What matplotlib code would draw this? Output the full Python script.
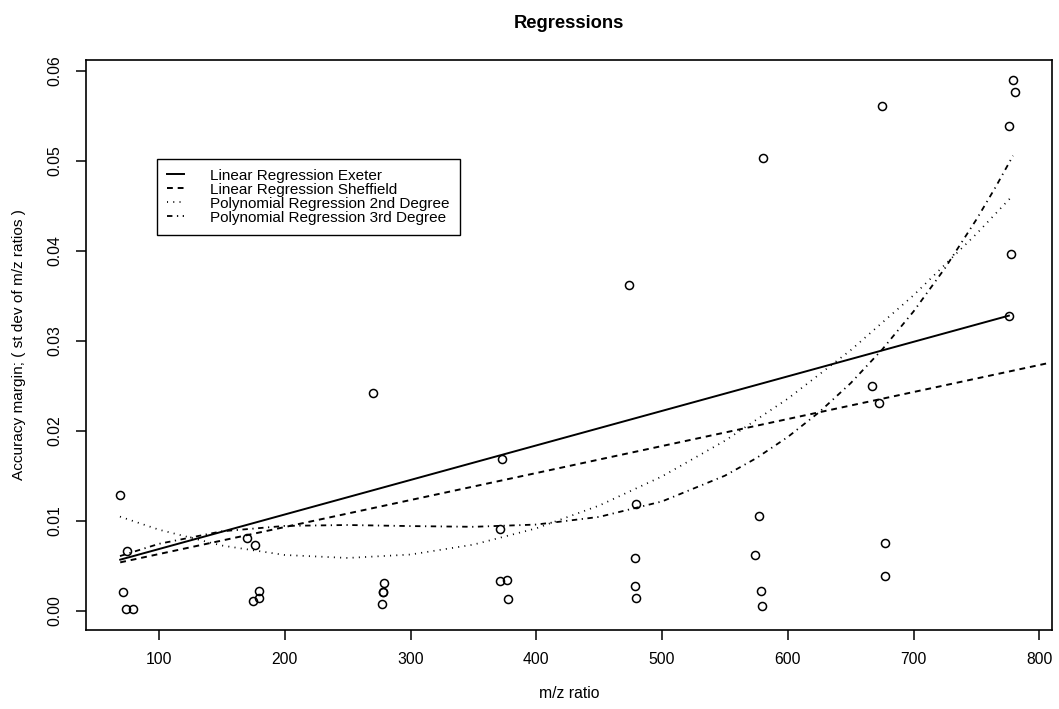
import matplotlib
matplotlib.use('Agg')
import matplotlib.pyplot as plt

plt.rcParams['font.family'] = ['Liberation Sans', 'DejaVu Sans']

# ---- data ----
mz = [69.2, 74.3, 71.6, 73.8, 79.3,
      170.2, 176.3, 179.2, 179.2, 175.0,
      270.1, 278.9, 277.8, 277.8, 277.0,
      372.7, 371.3, 371.3, 376.4, 377.7,
      473.4, 479.2, 478.1, 478.1, 478.9,
      580.1, 577.2, 573.8, 578.3, 579.3,
      675.0, 667.0, 672.3, 677.6, 677.1,
      779.1, 780.2, 776.2, 777.8, 775.7]
acc = [0.01285, 0.00666, 0.00207, 0.00022, 0.00022,
       0.00807, 0.00733, 0.00222, 0.00141, 0.00108,
       0.02424, 0.00307, 0.00207, 0.00207, 0.00074,
       0.01684, 0.00914, 0.00333, 0.00344, 0.00130,
       0.03617, 0.01185, 0.00585, 0.00281, 0.00148,
       0.05036, 0.01059, 0.00627, 0.00223, 0.00061,
       0.05611, 0.02500, 0.02306, 0.00751, 0.00389,
       0.05897, 0.05767, 0.05389, 0.03961, 0.03276]

exeter_x = [69.2, 775.7]
exeter_y = [0.0057, 0.0328]

sheffield_x = [69.2, 806.0]
sheffield_y = [0.0054, 0.0275]

poly2_x = [69, 100, 150, 200, 250, 300, 350, 400, 450, 500, 550, 600, 650, 700, 750, 779]
poly2_y = [0.01048, 0.00903, 0.00727, 0.00622, 0.00589, 0.00627, 0.00737, 0.00918,
           0.01171, 0.01495, 0.01891, 0.02358, 0.02897, 0.03507, 0.04189, 0.04617]

poly3_x = [69, 100, 150, 200, 250, 300, 350, 400, 450, 500, 550, 575, 600, 625,
           650, 675, 700, 725, 750, 765, 779]
poly3_y = [0.0061, 0.00746, 0.00885, 0.00945, 0.00955, 0.00943, 0.00935, 0.0096,
           0.01045, 0.01217, 0.01503, 0.01698, 0.01933, 0.02209, 0.02531, 0.02904,
           0.03328, 0.03809, 0.0435, 0.04704, 0.05056]

legend_labels = ['Linear Regression Exeter', 'Linear Regression Sheffield',
                 'Polynomial Regression 2nd Degree', 'Polynomial Regression 3rd Degree']

xticks = [100, 200, 300, 400, 500, 600, 700, 800]
yticks = [0.00, 0.01, 0.02, 0.03, 0.04, 0.05, 0.06]
ytick_labels = ['0.00', '0.01', '0.02', '0.03', '0.04', '0.05', '0.06']

# ---- figure ----
W, H = 1059, 709
fig = plt.figure(figsize=(W / 100, H / 100), dpi=100)
ax = fig.add_axes([86 / W, 1 - 630 / H, 966 / W, 570 / H])

ax.plot(mz, acc, linestyle='none', marker='o', mfc='none', mec='black',
        ms=5.8, mew=1.1)
l1, = ax.plot(exeter_x, exeter_y, color='black', lw=1.4, label=legend_labels[0])
l2, = ax.plot(sheffield_x, sheffield_y, color='black', lw=1.4, dashes=(3, 2.5),
              label=legend_labels[1])
l3, = ax.plot(poly2_x, poly2_y, color='black', lw=1.25, dashes=(0.6, 3.0),
              label=legend_labels[2])
l4, = ax.plot(poly3_x, poly3_y, color='black', lw=1.3, dashes=(3, 2.5, 0.7, 2.5),
              label=legend_labels[3])

ax.set_xlim(42, 810)
ax.set_ylim(-0.00211, 0.06119)
ax.set_xticks(xticks)
ax.set_xticklabels([str(t) for t in xticks])
ax.set_yticks(yticks)
ax.set_yticklabels(ytick_labels)
ax.tick_params(direction='out', length=7, width=1.1, labelsize=11.3, colors='black')
ax.tick_params(axis='x', pad=9)
ax.tick_params(axis='y', pad=10)
for lab in ax.get_yticklabels():
    lab.set_rotation(90)
    lab.set_va('center')
for s in ax.spines.values():
    s.set_linewidth(1.2)
    s.set_color('black')

ax.set_xlabel('m/z ratio', fontsize=11.3)
ax.xaxis.set_label_coords(0.5, (630 - 693) / 570)
ax.xaxis.label.set_va('center')
ax.set_ylabel('Accuracy margin; ( st dev of m/z ratios )', fontsize=11.1)
ax.yaxis.set_label_coords((19 - 86) / 966, 0.5)
ax.yaxis.label.set_va('center')

ax.set_title('Regressions', fontsize=13.2, fontweight='bold',
             y=(630 - 23) / 570, va='center', pad=0)

leg = ax.legend(handles=[l1, l2, l3, l4], loc='upper left',
                bbox_to_anchor=((157 - 86) / 966, (630 - 159) / 570),
                borderaxespad=0, fontsize=11, frameon=True, fancybox=False,
                edgecolor='black', framealpha=1, handlelength=1.1,
                handletextpad=1.75, labelspacing=0.0, borderpad=0.64)
leg.get_frame().set_linewidth(1.0)

fig.savefig('out.png', dpi=100)
